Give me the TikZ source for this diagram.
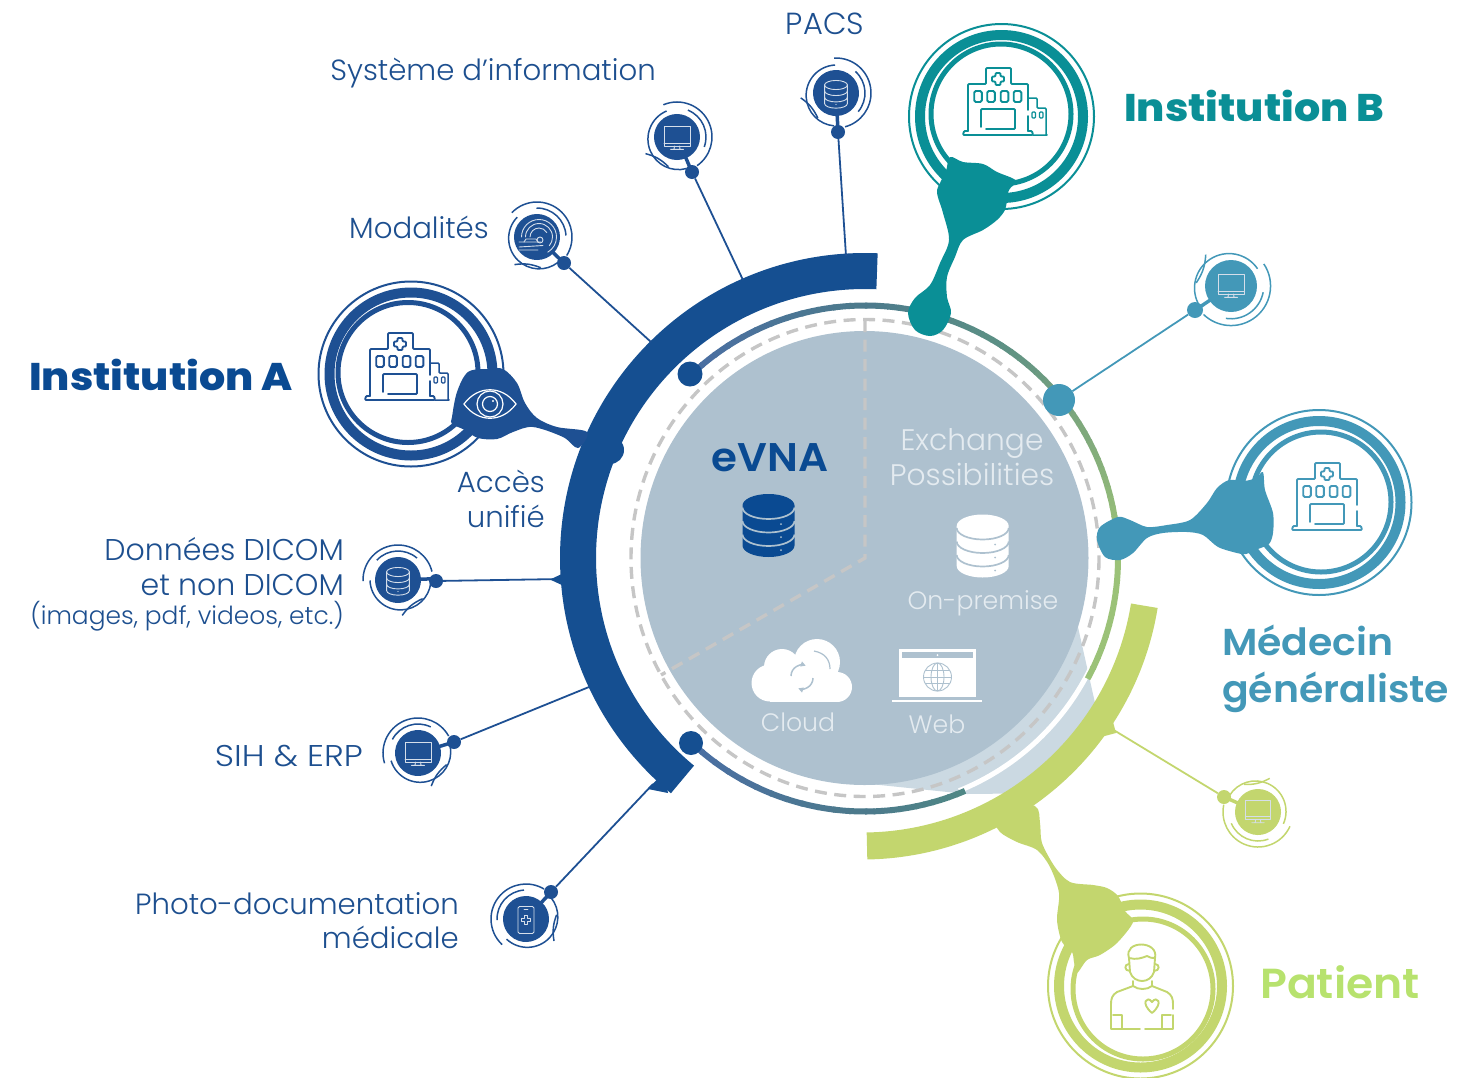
\documentclass[tikz,border=0pt]{standalone}
\usepackage{fontspec}
\usetikzlibrary{arrows.meta}
\setmainfont{Poppins}
\newfontfamily\lightf{Poppins Light}
\newfontfamily\xbold{Poppins ExtraBold}[FakeStretch=1.07]
\newfontfamily\sbold{Poppins SemiBold}[FakeStretch=1.05]
\newfontfamily\lightw{Poppins Light}[FakeStretch=1.12]
\definecolor{cA}{HTML}{1E5093}
\definecolor{cArc}{HTML}{154F91}
\definecolor{cB}{HTML}{0A8F96}
\definecolor{cM}{HTML}{4398B8}
\definecolor{cP}{HTML}{C3D66E}
\definecolor{cDisc}{HTML}{AEC1CF}
\definecolor{cOver}{HTML}{CBD9E2}
\definecolor{cDash}{HTML}{C6C6C6}
\definecolor{cTxt}{HTML}{1D4F8F}
\definecolor{cEvna}{HTML}{0A4A92}
\definecolor{cSoft}{HTML}{E4EBF0}
\definecolor{cIcon}{HTML}{D5DEEA}
\definecolor{cPtxt}{HTML}{B7E26E}
\definecolor{r1}{HTML}{4A6EA3}
\definecolor{r2}{HTML}{4C7A8C}
\definecolor{r3}{HTML}{5B8F85}
\definecolor{r4}{HTML}{7FA97C}
\definecolor{r5}{HTML}{9BC278}
\definecolor{r6}{HTML}{4F8785}
\tikzset{
  lab/.style={text=cTxt,inner sep=0pt,font=\lightf\fontsize{29.2}{34.5}\selectfont,align=right},
  title/.style={inner sep=0pt,font=\xbold\fontsize{38.5}{47}\selectfont,align=left},
  soft/.style={text=cSoft,inner sep=0pt,font=\lightf\fontsize{29.7}{35}\selectfont,align=center},
  softs/.style={text=cSoft,inner sep=0pt,font=\lightf\fontsize{25.2}{30}\selectfont,align=center},
  ndot/.style={circle,fill=#1,draw=none,minimum size=14pt,inner sep=0pt},
  bigdot/.style={circle,fill=#1,draw=none,inner sep=0pt},
  wire/.style={draw=#1,line width=1.8pt},
  ringline/.style={line width=6pt},
  dashline/.style={draw=cDash,line width=3.4pt,dash pattern=on 12pt off 7.5pt},
  ic/.style={line width=.9pt,line cap=round,line join=round},
  hl/.style={line width=1.9pt,line cap=round,line join=round,rounded corners=1pt},
  pics/smallring/.style={code={
    \fill (0,0) circle[radius=23];
    \draw[line width=1.5pt] (0,35) arc[start angle=90,end angle=-78,radius=35];
    \draw[line width=1.5pt] (0.5,28) arc[start angle=90,end angle=262,radius=30.5];
    \draw[line width=1.5pt] (20.5,20.5) arc[start angle=45,end angle=-43,radius=29];
    \draw[line width=1.5pt] (-35.5,-3) to[bend right=15] (-19.5,-24);
    \draw[line width=3.5pt] (0,-22) -- (0,-38);
  }},
  pics/hosp/.style={code={
    \draw[hl] (-30,26) -- (-30,-21) -- (-12,-21) -- (-12,-37) -- (13,-37) -- (13,-21) -- (30,-21) -- (30,5);
    \draw[hl] (30,11) -- (30,26);
    \draw[hl] (-30,26) -- (-34,26) -- (-35,30) -- (35,30) -- (34,26) -- (30,26);
    \draw[hl] (-2.5,-32) -- (2.5,-32) -- (2.5,-28.5) -- (6,-28.5) -- (6,-23.5) -- (2.5,-23.5) -- (2.5,-20)
      -- (-2.5,-20) -- (-2.5,-23.5) -- (-6,-23.5) -- (-6,-28.5) -- (-2.5,-28.5) -- cycle;
    \foreach \wx in {-20,-7,6.5,19.5}{\draw[hl,rounded corners=1.5pt] (\wx-3.8,-14) rectangle (\wx+3.8,-3);}
    \draw[hl] (-12,24) -- (17,24) -- (17,4) -- (-17,4) -- (-17,22);
  }},
  pics/annex/.style={code={
    \draw[hl,line width=1.5pt] (31,-7) -- (39,-7) -- (39,3) -- (48,3) -- (48,30) -- (50,30) -- (35,30);
    \draw[hl,line width=1.3pt] (34,7) rectangle (37.5,13);
    \draw[hl,line width=1.3pt] (41.5,7) rectangle (45,13);
  }},
  pics/monitor/.style={code={
    \draw[ic] (-13,8) -- (-13,-12) -- (13,-12) -- (13,8) -- cycle;
    \draw[ic] (-13,5) -- (13,5);
    \draw[ic] (-2.5,8) -- (-3,11) (2.5,8) -- (3,11) (-6.5,11.3) -- (6.5,11.3);
  }},
  pics/dbline/.style={code={
    \draw[ic] (0,-7.5) ellipse[x radius=9.5,y radius=3.8];
    \draw[ic] (-9.5,-7.5) -- (-9.5,8) arc[start angle=180,end angle=0,x radius=9.5,y radius=3.8] -- (9.5,-7.5);
    \draw[ic] (-9.5,-2.5) arc[start angle=180,end angle=0,x radius=9.5,y radius=3.8];
    \draw[ic] (-9.5,2.8) arc[start angle=180,end angle=0,x radius=9.5,y radius=3.8];
    \fill (0,8.8) circle[radius=.5];
  }},
  pics/dbfill/.style 2 args={code={
    \fill[#1] (-26,-20) arc[start angle=180,end angle=360,x radius=26,y radius=11.5]
       -- (26,20) arc[start angle=0,end angle=180,x radius=26,y radius=11.5] -- cycle;
    \foreach \sy in {-18,-4.5,9}{\draw[#2,line width=1.7pt] (-26,\sy) arc[start angle=180,end angle=0,x radius=26,y radius=11.5];}
    \fill[#2] (12.5,-1.5) circle[radius=1] (12.5,11.5) circle[radius=1] (12.5,24.5) circle[radius=1];
  }},
}
\newcommand\gradarc[4]{\foreach \i in {0,...,11}{
  \pgfmathsetmacro\pp{100-\i*100/11}
  \pgfmathsetmacro\sa{#1+(#2-#1)*\i/12}
  \pgfmathsetmacro\ea{#1+(#2-#1)*(\i+1.15)/12}
  \draw[ringline,color=#3!\pp!#4] ({865+253*cos(\sa)},{558.5-253*sin(\sa)}) arc[start angle=-\sa,end angle=-\ea,radius=253];
}}
\newcommand\bigrings[5]{
  \draw[#5,line width=2pt] (#1,#2) circle[radius=92.5];
  \draw[#5,line width=10pt] (#1,#2) circle[radius=81.5];
  \draw[#5,line width=5pt] (#3,#4) circle[radius=70];
}
\newcommand\smallat[5]{\begin{scope}[shift={(#1,#2)},rotate=#3,yscale=-1,scale=#5]\pic[color=#4,transform shape] {smallring};\end{scope}}
\begin{document}
\begin{tikzpicture}[x=1pt,y=-1pt]
\useasboundingbox (0,0) rectangle (1478,1077);
\clip (0,0) rectangle (1478,1077);
% translucent wedge under the green arc
\fill[cOver] (1078,627) -- (1095,703) arc[start angle=31.5,end angle=58.7,radius=273] -- (967,794) -- (870,784) -- cycle;
\draw[white,line width=5pt] ({865+251*cos(25)},{558+251*sin(25)}) arc[start angle=25,end angle=68,radius=251];
% central disc
\node[circle,fill=none,draw=none,minimum size=0pt,inner sep=0pt] (core) at (865,558) {};
\fill[cDisc] (864.5,558) ellipse[x radius=224,y radius=227];
\draw[dashline] (865,558) ellipse[x radius=234,y radius=238.5];
\draw[dashline] (865,320) -- (core.center) -- (661,675);
% gradient rings
\gradarc{134}{90}{r1}{r2}
\gradarc{90}{60}{r2}{r3}
\gradarc{60}{30}{r3}{r4}
\gradarc{30}{3}{r4}{r5}
\gradarc{3}{-28}{r5}{r5}
\gradarc{226}{270}{r1}{r2}
\gradarc{270}{293}{r2}{r6}
% large arcs
\draw[cArc,line width=36pt] ({865+287*cos(87.6)},{558-287*sin(87.6)}) arc[start angle=-87.6,end angle=-230.5,radius=287];
\draw[cP,line width=27pt] ({862+286*cos(9.2)},{560+286*sin(9.2)}) arc[start angle=9.2,end angle=89,radius=286];
% dots on the rings
\node[bigdot=cArc,minimum size=25pt] (ringtop) at (690,374) {};
\node[bigdot=cArc,minimum size=24pt] (ringbot) at (691,743) {};
\node[bigdot=cArc,minimum size=28pt] (accdot) at (610,450) {};
\node[bigdot=cM,minimum size=32pt] (tealdot) at (1059,400) {};
% small satellite nodes
\node[ndot=cA] (pacsd) at (838,132) {};
\node[ndot=cA] (sysd) at (692,172) {};
\node[ndot=cA] (modd) at (564,263) {};
\node[ndot=cA] (dicd) at (436,581) {};
\node[ndot=cA] (sihd) at (454,742) {};
\node[ndot=cA] (phod) at (551,892) {};
\node[ndot=cM,minimum size=16pt] (md2d) at (1195,310) {};
\node[ndot=cP] (ptd) at (1224,797) {};
\coordinate (pacsa) at (846,256);
\coordinate (sysa) at (743,280);
\coordinate (moda) at (651,342);
\coordinate (dica) at (562,579);
\coordinate (siha) at (589,687);
\coordinate (phoa) at (653,784);
\coordinate (pta) at (1112,729);
\draw[wire=cA] (pacsd) -- (pacsa);
\draw[wire=cA] (sysd) -- (sysa);
\draw[wire=cA] (modd) -- (moda);
\draw[wire=cA] (dicd) -- (dica);
\draw[wire=cA] (sihd) -- (siha);
\draw[wire=cA] (phod) -- (phoa);
\draw[wire=cM] (md2d) -- (tealdot);
\draw[wire=cP] (ptd) -- (pta);
\fill[cArc] (550,579.5) -- (564,573) -- (564,586) -- cycle;
\fill[cArc] (648,789) -- (664,772) -- (668,793) -- cycle;
\fill[cP] (1101,737) -- (1116,733) -- (1112,718) -- (1098,726) -- cycle;
\smallat{836}{93}{3}{cA}{1}
\smallat{677}{137}{23}{cA}{1}
\smallat{537}{237}{46}{cA}{1}
\smallat{398}{580}{92}{cA}{1}
\smallat{418}{753}{107}{cA}{1}
\smallat{526}{919}{137}{cA}{1}
\smallat{1231}{286}{-56}{cM}{1.13}
\smallat{1258}{812}{246}{cP}{1}
% small icons
\pic[color=cIcon,scale=1.2] at (836,94) {dbline};
\pic[color=cIcon] at (677,138) {monitor};
\pic[color=cIcon,scale=1.2] at (398,581) {dbline};
\pic[color=cIcon] at (418,754) {monitor};
\pic[color=cIcon] at (1231,286) {monitor};
\pic[color=cIcon,scale=.95] at (1258,812) {monitor};
% modality scanner
\begin{scope}[shift={(539,237)},color=cIcon]
  \draw[ic] (-17.5,0) arc[start angle=180,end angle=420,radius=17.5];
  \draw[ic] (-13.5,0) arc[start angle=180,end angle=400,radius=13.5];
  \draw[ic] (-9,0) arc[start angle=180,end angle=330,radius=9];
  \draw[ic] (-20,5) -- (2,5) (-20,10) -- (4,8.5) (-20,13) -- (-1,13);
  \draw[ic] (-15,5) -- (-13,2) -- (-3,2) -- (-1,5);
  \draw[ic] (1,3) circle[radius=3];
\end{scope}
% phone
\begin{scope}[shift={(526,920)},color=cIcon]
  \draw[ic,rounded corners=1.5pt] (-8,-13.5) rectangle (8,13.5);
  \draw[ic] (-2,-11) -- (2,-11);
  \draw[ic] (-1.7,-4.5) -- (1.7,-4.5) -- (1.7,-1.7) -- (4.5,-1.7) -- (4.5,1.7) -- (1.7,1.7) -- (1.7,4.5) -- (-1.7,4.5) -- (-1.7,1.7) -- (-4.5,1.7) -- (-4.5,-1.7) -- (-1.7,-1.7) -- cycle;
\end{scope}
% Institution A
\bigrings{411}{374}{408}{372.5}{cA}
\fill[cA] plot[smooth cycle,tension=.55] coordinates {(503,369) (517,383) (525,403) (537,418) (557,427) (587,432) (578,448) (563,437) (533,427) (513,432) (497,439) (478,438) (465,430) (452,424) (452,417) (457,392) (468,372) (488,369)};
\pic[color=cA] at (400,370) {hosp};
\pic[color=cA] at (400,370) {annex};
\begin{scope}[shift={(490,404)},white]
  \draw[line width=1.2pt] (-26,0) .. controls (-12,-19) and (12,-19) .. (26,0) .. controls (12,19) and (-12,19) .. (-26,0) -- cycle;
  \draw[line width=1.2pt] (0,0) circle[radius=13];
  \draw[line width=1.2pt] (0,0) circle[radius=7.5];
  \fill (3,-3) circle[radius=1.2];
\end{scope}
% Institution B
\bigrings{1001.5}{116.5}{1001}{114}{cB}
\fill[cB] plot[smooth cycle,tension=.55] coordinates {(950,157) (963,162) (983,164) (997,172) (1012,178) (1016,182) (1009,190) (1007,200) (1005,210) (997,220) (983,230) (963,240) (955,257) (947,277) (947,297) (951,313) (943,330) (930,336) (915,330) (908,313) (915,298) (930,285) (940,263) (949,240) (943,213) (937,193) (940,183) (946,171)};
\pic[color=cB] at (998,105) {hosp};
\pic[color=cB] at (998,105) {annex};
% Medecin
\bigrings{1319}{502.5}{1321}{502}{cM}
\fill[cM] plot[smooth cycle,tension=.5] coordinates {(1229,480) (1217,488) (1207,503) (1190,520) (1167,525) (1147,527) (1130,520) (1118,517) (1100,527) (1097,540) (1105,557) (1120,560) (1133,553) (1147,538) (1163,533) (1187,532) (1203,535) (1218,547) (1237,553) (1246,554) (1258,549) (1269,544) (1273,533) (1273,513) (1265,490) (1263,472) (1256,478) (1244,481)};
\pic[color=cM] at (1327,500) {hosp};
% Patient
\bigrings{1140.5}{986}{1143}{989}{cP}
\fill[cP] plot[smooth cycle,tension=.5] coordinates {(1035,806) (1040,823) (1042,843) (1055,867) (1070,882) (1093,885) (1107,888) (1118,896) (1125,911) (1133,922) (1117,943) (1100,955) (1087,960) (1077,973) (1074,962) (1072,952) (1062,942) (1057,920) (1059,893) (1050,867) (1037,850) (1017,842) (1000,832) (993,817) (1000,803)};
% person icon
\begin{scope}[color=cP,line width=1.9pt,line cap=round,line join=round]
  \draw (1129,958) .. controls (1123,940) and (1159,940) .. (1155,958);
  \draw (1129,958) .. controls (1136,960) and (1142,958) .. (1147,956) .. controls (1150,958) and (1152,958) .. (1155,958);
  \draw (1129,958) -- (1130,972) .. controls (1134,984) and (1150,984) .. (1154,972) -- (1155,958);
  \draw (1129,964) .. controls (1124,964) and (1124,971) .. (1130,971);
  \draw (1155,964) .. controls (1160,964) and (1160,971) .. (1154,971);
  \draw (1133,981) -- (1133,986) .. controls (1138,990) and (1147,990) .. (1152,986) -- (1152,981);
  \draw (1133,986) -- (1117,992) .. controls (1112,995) and (1111,999) .. (1111,1004) -- (1111,1029) -- (1140,1029);
  \draw (1145,1029) -- (1173,1029) -- (1173,1015);
  \draw (1173,1009) -- (1173,1004) .. controls (1173,999) and (1172,995) .. (1167,992) -- (1152,986);
  \draw (1113,1015) -- (1122,1015) -- (1122,1029);
  \draw (1171,1015) -- (1162,1015) -- (1162,1029);
  \draw (1152,1013) .. controls (1140,1003) and (1147,995) .. (1152,1002) .. controls (1157,995) and (1164,1003) .. (1152,1013) -- cycle;
\end{scope}
% disc icons
\pic at (768.5,525.5) {dbfill={cEvna}{cDisc}};
\pic at (982.7,546) {dbfill={white}{cDisc}};
% cloud
\fill[white] (770,683) circle[radius=18.5];
\fill[white] (782,667) circle[radius=18];
\fill[white] (817,662) circle[radius=23];
\fill[white] (837,687) circle[radius=15];
\fill[white] (770,672) rectangle (837,702);
\draw[cDisc,line width=1.2pt] (814,651) .. controls (825,653) and (830,660) .. (830,669);
\begin{scope}[shift={(802,677)},cDisc,line width=1.5pt,>={Triangle[length=5pt,width=5pt]}]
  \draw[->] (-11,-1) arc[start angle=180,end angle=290,radius=11];
  \draw[->] (11,1) arc[start angle=0,end angle=110,radius=11];
\end{scope}
% web
\fill[white] (899,649) rectangle (976,697);
\fill[cDisc] (901.7,652) rectangle (973,658);
\fill[white] (937.5,655) circle[radius=1];
\draw[white,line width=2pt] (892,701) -- (982,701);
\begin{scope}[shift={(937.5,677)},cDisc,line width=.9pt]
  \draw (0,0) circle[radius=14];
  \draw (0,0) ellipse[x radius=6.5,y radius=14];
  \draw (-14,0) -- (14,0) (0,-14) -- (0,14) (-12.3,-6.5) -- (12.3,-6.5) (-12.3,6.5) -- (12.3,6.5);
\end{scope}
% texts
\node[lab,anchor=base,font=\lightf\fontsize{30.5}{35}\selectfont] (tpacs) at (825,34) {PACS};
\node[lab,anchor=base east] (tsys) at (656,80) {Système d’information};
\node[lab,anchor=base east] (tmod) at (489,238) {Modalités};
\node[title,text=cEvna,anchor=base west] (tinsa) at (29,390) {Institution A};
\node[lab,anchor=north east] (tacc) at (545,470) {Accès\\unifié};
\node[lab,anchor=north east,font=\lightf\fontsize{30}{35}\selectfont] (tdic) at (344,537) {Données DICOM\\et non DICOM};
\node[lab,anchor=base east,font=\lightf\fontsize{24.9}{30}\selectfont] (timg) at (344,624) {(images, pdf, videos, etc.)};
\node[lab,anchor=base east,font=\lightw\fontsize{30}{35}\selectfont] (tsih) at (363,766) {SIH \& ERP};
\node[lab,anchor=north east] (tpho) at (459,892) {Photo-documentation\\médicale};
\node[text=cEvna,inner sep=0pt,font=\sbold\fontsize{40}{44}\selectfont,anchor=base] (tevna) at (770,471) {eVNA};
\node[soft,anchor=north] (tex) at (972,428) {Exchange\\Possibilities};
\node[softs,anchor=base] (ton) at (983,609) {On-premise};
\node[softs,anchor=base] (tcl) at (798,731) {Cloud};
\node[softs,anchor=base] (tweb) at (937,733) {Web};
\node[title,text=cB,anchor=base west] (tinsb) at (1124,121) {Institution B};
\node[title,text=cM,anchor=north west,font=\sbold\fontsize{37.5}{47}\selectfont] (tmed) at (1222,625) {Médecin\\généraliste};
\node[title,text=cPtxt,anchor=base west,font=\sbold\fontsize{42}{47}\selectfont] (tpat) at (1260,998) {Patient};
\end{tikzpicture}
\end{document}
